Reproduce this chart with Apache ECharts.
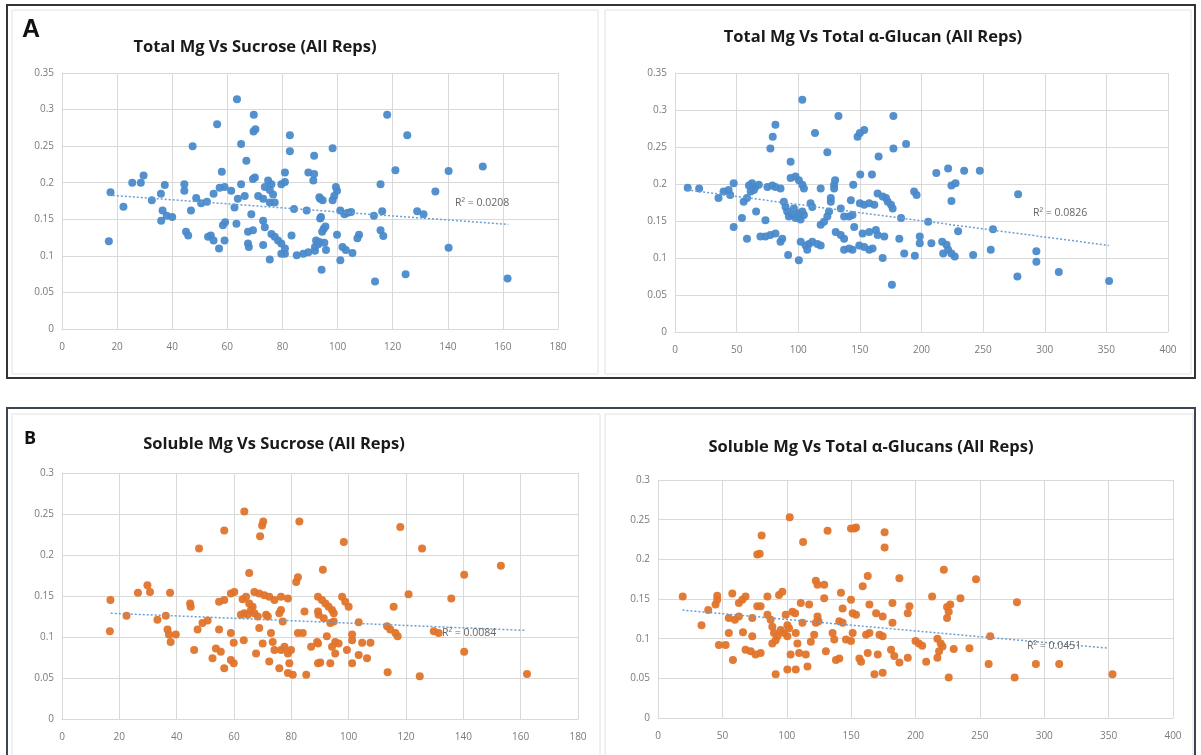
<!DOCTYPE html>
<html>
<head>
<meta charset="utf-8">
<script src="https://cdn.jsdelivr.net/npm/echarts@6/dist/echarts.min.js"></script>
<style>html,body{margin:0;padding:0;background:#fff}#c{width:1201px;height:755px}</style>
</head>
<body>
<div id="c"></div>
<script>
// ---- Titles / labels ----
const panelTitles = [
  'Total Mg Vs Sucrose (All Reps)',
  'Total Mg Vs Total \u03b1-Glucan (All Reps)',
  'Soluble Mg Vs Sucrose (All Reps)',
  'Soluble Mg Vs Total \u03b1-Glucans (All Reps)'
];
const r2Labels = ['R\u00b2 = 0.0208', 'R\u00b2 = 0.0826', 'R\u00b2 = 0.0084', 'R\u00b2 = 0.0451'];
const xMaxes = [180, 400, 180, 400];
const xIntervals = [20, 50, 20, 50];
const yMaxes = [0.35, 0.35, 0.3, 0.3];
const yInterval = 0.05;

// ---- Trend lines (end points) ----
const trendA1 = [[17, 0.183], [162, 0.143]];
const trendA2 = [[10, 0.192], [352, 0.117]];
const trendB1 = [[17, 0.129], [162, 0.108]];
const trendB2 = [[19, 0.136], [350, 0.088]];

// ---- Panel A left: Total Mg vs Sucrose ----
const pointsA1 = [
[17,0.120],[17.6,0.187],[22.3,0.167],[25.5,0.200],[28.6,0.200],[29.6,0.210],[32.6,0.176],[35.9,0.185],[37.3,0.197],[36.5,0.162],[38,0.155],[40,0.153],[36,0.148],[44.4,0.198],[44.4,0.189],[48.7,0.179],[46.8,0.162],[45,0.133],[45.8,0.128],[47.4,0.250],
[50.5,0.172],[52.6,0.174],[55,0.185],[57.2,0.193],[59,0.194],[61.4,0.189],[62.6,0.166],[63.8,0.178],[65,0.198],[66.3,0.182],[53,0.126],[54,0.128],[55,0.121],[57,0.110],[59,0.121],[58.4,0.142],[59.2,0.146],[63.3,0.144],[56.3,0.280],[58,0.215],[63.5,0.314],[65,0.253],[66.9,0.230],
[69.6,0.293],[69.5,0.270],[70.2,0.273],[69.3,0.205],[70,0.207],[74.8,0.203],[76,0.198],[73.6,0.194],[75.4,0.190],[71.2,0.182],[73,0.178],[76.6,0.184],[75.4,0.173],[77.2,0.173],[79.6,0.198],[80.9,0.201],[80.9,0.214],[82.7,0.265],[82.7,0.243],[68.7,0.157],[67.5,0.133],[69.3,0.135],[67.5,0.117],[67.8,0.112],[73,0.148],[73.6,0.139],[76,0.130],[77.2,0.126],[78.4,0.121],[79.6,0.117],[80.9,0.110],[83.3,0.128],[73,0.115],[75.4,0.095],[79.6,0.103],[80.9,0.103],[85.2,0.101],[87.6,0.103],[89.4,0.105],[91.8,0.107],[93,0.116],[84.2,0.164],[88.8,0.162],[89.4,0.214],[91.5,0.237],[91.2,0.203],[91.5,0.212],[93.7,0.178],[93.7,0.151],[94.2,0.081],[93.4,0.180],[94.6,0.176],
[98.2,0.247],[99.4,0.194],[99.8,0.189],[98.8,0.182],[98.2,0.176],[101,0.162],[102.5,0.157],[103.7,0.159],[104.9,0.160],[94,0.153],[95,0.137],[95.6,0.140],[94.4,0.133],[99.8,0.129],[107.8,0.129],[107.2,0.124],[101.8,0.112],[103,0.108],[105.4,0.104],[101,0.094],[92.2,0.121],[93.4,0.119],[95.2,0.118],[95.8,0.108],[91.8,0.112],[113.2,0.155],[116.2,0.161],[115.6,0.135],[116.6,0.127],[113.6,0.065],[118,0.293],[121,0.217],[115.6,0.198],[124.7,0.075],[125.3,0.265],[128.9,0.161],[131.2,0.157],[135.5,0.188],[140.3,0.216],[140.3,0.111],[152.7,0.222],[161.7,0.069]
];

// ---- Panel A right: Total Mg vs Total alpha-Glucan ----
const pointsA2 = [
[10.3,0.195],[19.6,0.194],[35.3,0.181],[39.4,0.190],[43.5,0.192],[47.6,0.201],[44.8,0.185],[47.6,0.142],[54.3,0.154],[55.7,0.176],[58.4,0.181],[58.4,0.126],[60,0.198],[62.5,0.201],[65.2,0.196],[68,0.199],[61.4,0.190],[64,0.192],[65.8,0.163],[73.4,0.151],[69.3,0.129],[73.4,0.129],[77.4,0.131],[81.5,0.133],[75,0.196],[79,0.198],[81.5,0.196],[85.6,0.194],[77.4,0.248],[79.3,0.264],[81.5,0.280],[85.6,0.122],[87,0.126],[88.3,0.176],[89.7,0.169],[91,0.163],[95.1,0.158],[92.4,0.156],[91.8,0.104],[93.8,0.230],[93.8,0.208],[97.8,0.210],[100.5,0.205],[103.3,0.199],[104.6,0.194],[96.5,0.167],[100.5,0.160],[103.3,0.163],[97.8,0.154],[101.9,0.152],[104.6,0.158],[100.5,0.156],[100.5,0.097],[103.3,0.314],[102,0.122],[106,0.117],[108.7,0.119],[111.4,0.122],[115.5,0.119],[118.2,0.117],[107.3,0.111],[110,0.174],[111.4,0.169],[113.6,0.269],[118.2,0.194],[118.2,0.145],[120.9,0.149],[123.6,0.243],[123.6,0.156],[125,0.163],[126.4,0.176],[126.4,0.181],[129.1,0.199],[129.9,0.205],[129.1,0.194],[130.4,0.135],[134.5,0.131],[137.2,0.126],[132.6,0.292],[134.5,0.167],[137.2,0.156],[141.3,0.156],[144,0.158],[137.2,0.111],[141.3,0.113],[144,0.111],[142.7,0.178],[144.6,0.199],[145.4,0.142],[148.1,0.264],[150,0.269],[153.5,0.273],[150,0.174],[153.5,0.172],[157.6,0.174],[150.3,0.213],[159.8,0.213],[149.5,0.117],[153.5,0.115],[157.6,0.111],[160.3,0.113],[152.2,0.133],[157.6,0.135],[163,0.138],[164.4,0.131],[161.7,0.172],[165.2,0.237],[164.4,0.187],[168.5,0.183],[171.2,0.181],[172.6,0.176],[175.3,0.172],[176.6,0.167],[169.8,0.129],[168.5,0.100],[177.2,0.248],[177.2,0.292],[176,0.064],[183.4,0.154],[182,0.126],[187.5,0.254],[186,0.106],[194.6,0.103],[194,0.190],[196,0.185],
[212,0.215],[221.6,0.221],[234.6,0.218],[247.3,0.218],[224.3,0.198],[227.6,0.201],[224.3,0.177],[278.4,0.186],[205.4,0.149],[229.7,0.136],[258,0.139],[198.6,0.129],[198.6,0.120],[208,0.120],[216.8,0.122],[220.3,0.118],[221.6,0.111],[224.3,0.106],[227,0.102],[217.6,0.106],[241.9,0.104],[256.2,0.111],[293.2,0.109],[293.2,0.095],[277.8,0.075],[311.4,0.081],[352.2,0.069]
];

// ---- Panel B left: Soluble Mg vs Sucrose ----
const pointsB1 = [
[16.9,0.145],[16.7,0.107],[22.5,0.126],[26.5,0.154],[29.8,0.163],[30.7,0.155],[37.7,0.154],[33.3,0.121],[36.2,0.126],[36.8,0.109],[37.3,0.103],[37.9,0.094],[39.7,0.103],[44.7,0.141],[44.9,0.137],[46.1,0.084],[47.3,0.109],[49,0.117],[50.8,0.120],[47.8,0.208],
[54.8,0.143],[56.6,0.145],[58.9,0.153],[60.1,0.155],[54.8,0.109],[58.9,0.105],[59.9,0.093],[52.5,0.074],[53.7,0.086],[55.4,0.082],[56.6,0.062],[58.9,0.072],[59.9,0.068],[56.6,0.230],[63.6,0.253],[70.2,0.241],[69.8,0.236],[69.1,0.223],[82.8,0.241],[65.3,0.178],[82.3,0.173],[81.7,0.167],
[63,0.146],[64.2,0.149],[65.3,0.141],[66.5,0.137],[63.6,0.129],[62.4,0.127],[64.8,0.127],[67.1,0.129],[68.3,0.125],[65.9,0.133],[63.4,0.096],[67.1,0.155],[68.8,0.153],[70.6,0.151],[72.3,0.149],[74.1,0.145],[76.4,0.149],[78.8,0.147],[68.8,0.111],[71.2,0.127],[71.8,0.125],[70,0.092],[67.7,0.080],[72.9,0.105],[73.5,0.094],[74.1,0.084],[72.3,0.070],[75.8,0.062],[76.4,0.084],[77.6,0.088],[78.8,0.080],[79.9,0.084],[79.3,0.068],[80.5,0.054],[78.8,0.056],[85.2,0.054],[75.8,0.129],[76.4,0.133],[77,0.119],[82.3,0.105],[84,0.105],[84.6,0.131],[86.9,0.088],[89.3,0.092],[89.3,0.068],[89.3,0.149],[89.3,0.131],
[91,0.182],[98.3,0.216],[90.7,0.145],[91.9,0.141],[93,0.137],[94.2,0.133],[94.8,0.129],[89.5,0.127],[91.3,0.123],[93.6,0.117],[97.7,0.149],[98.8,0.143],[100,0.137],[94.8,0.119],[103.5,0.118],[89,0.094],[92.4,0.101],[95.3,0.094],[101.2,0.103],[101.2,0.096],[104.7,0.093],[107.6,0.093],[94.2,0.088],[96.5,0.092],[95.3,0.080],[99.4,0.084],[90.1,0.069],[93.6,0.068],[101.2,0.068],[103.5,0.078],[106.4,0.074],
[115.7,0.137],[120.9,0.152],[113.4,0.113],[114.5,0.109],[116.3,0.105],[117.1,0.101],[113.6,0.057],[118,0.234],[125.6,0.208],[124.8,0.052],[129.7,0.107],[131.4,0.105],[135.8,0.147],[140.3,0.176],[140.3,0.082],[153.1,0.187],[162.2,0.055]
];

// ---- Panel B right: Soluble Mg vs Total alpha-Glucans ----
const pointsB2 = [
[19.2,0.153],[33.8,0.117],[39,0.136],[46,0.154],[46,0.149],[44.7,0.143],[47.3,0.092],[52.5,0.092],[55,0.126],[59.7,0.124],[62.8,0.128],[57.7,0.157],[55,0.107],[58.2,0.073],[62.8,0.145],[65.5,0.149],[68,0.153],[66,0.108],[68,0.086],[72,0.084],[75.8,0.080],[79.7,0.082],[73.2,0.126],[73.2,0.103],[77.1,0.206],[79,0.207],[80.5,0.230],[77.1,0.141],[79.7,0.141],[85,0.153],[85,0.130],[87.5,0.124],[88.8,0.115],[90.1,0.107],[91.4,0.098],[88.8,0.094],[92.7,0.103],[91.4,0.055],[94,0.155],[96.6,0.159],[95.3,0.111],[97.9,0.107],[100.5,0.103],[101.8,0.113],[99.2,0.130],[100.5,0.117],[102.3,0.253],[103,0.080],[100.5,0.061],[107,0.061],[104.4,0.134],[106.5,0.132],[107,0.107],[108.3,0.094],[109.6,0.082],[110.9,0.145],[117.4,0.143],[112.7,0.222],[112.2,0.120],[114.8,0.080],[116.1,0.065],[118.7,0.096],[121.3,0.105],[122.6,0.120],[122.6,0.173],[123.9,0.168],[129.1,0.168],[123.9,0.128],[124.7,0.122],[129.1,0.151],[130.4,0.084],[131.7,0.236],[135.6,0.107],[136.9,0.099],[138.2,0.073],[140.8,0.075],[140.8,0.122],[143.4,0.120],[143.4,0.138],[142.1,0.158],[146,0.099],[149.9,0.149],[151.2,0.132],[153.8,0.130],[149.9,0.239],[152.5,0.239],[153.8,0.240],[151.2,0.107],[149.9,0.097],[156.4,0.075],[157.7,0.071],[159,0.166],[162.9,0.179],[161.6,0.105],[164.2,0.107],[162.9,0.082],[164.2,0.143],[168.1,0.055],[174.5,0.057],[169.4,0.132],[174.5,0.128],[172,0.105],[174.5,0.103],[170.7,0.080],[176,0.234],[176,0.215],[182.1,0.120],[182.1,0.145],[181,0.086],[183.5,0.078],[187.5,0.070],[194,0.076],[187.5,0.176],[194,0.132],[195.3,0.141],[200,0.097],
[222,0.187],[247,0.175],[212.9,0.153],[234.9,0.151],[278.8,0.146],[224.5,0.140],[225.8,0.134],[224.5,0.126],[227,0.143],[258,0.103],[202.6,0.094],[205.2,0.091],[217,0.100],[219.6,0.094],[221,0.090],[218.3,0.084],[217,0.076],[229.7,0.087],[241.9,0.088],[208.3,0.071],[225.8,0.051],[256.8,0.068],[277,0.051],[293.5,0.068],[311.6,0.068],[353,0.055]
];

const pointSets = [pointsA1, pointsA2, pointsB1, pointsB2];
const trends = [trendA1, trendA2, trendB1, trendB2];
const pointColors = ['#4a8acb', '#4a8acb', '#e0742a', '#e0742a'];

// ---- layout (pixels) ----
const grids = [
  {left: 62, top: 73, width: 496, height: 256},
  {left: 675, top: 73, width: 493, height: 259},
  {left: 62, top: 473, width: 516, height: 246},
  {left: 658, top: 480, width: 515, height: 238}
];
const titlePos = [[250, 34], [868, 24], [269, 431], [866, 434]];
const r2Pos = [[455, 198], [1033, 208], [442, 628], [1027, 641]];

const gridLineColor = '#d9d9d9';
const labelStyle = {color: '#7a7a7a', fontSize: 10, fontFamily: 'Open Sans'};

const option = {
  animation: false,
  backgroundColor: '#fff',
  title: panelTitles.map((t, i) => ({
    text: t, left: titlePos[i][0], top: titlePos[i][1], textAlign: 'center',
    textStyle: {fontFamily: 'Open Sans', fontWeight: 'bold', fontSize: 16.5, color: '#1a1a1a'}
  })),
  grid: grids,
  xAxis: grids.map((g, i) => ({
    gridIndex: i, type: 'value', min: 0, max: xMaxes[i], interval: xIntervals[i],
    axisLine: {show: true, lineStyle: {color: gridLineColor}},
    axisTick: {show: false},
    axisLabel: Object.assign({margin: 13, showMaxLabel: true}, labelStyle),
    splitLine: {show: true, lineStyle: {color: gridLineColor}}
  })),
  yAxis: grids.map((g, i) => ({
    gridIndex: i, type: 'value', min: 0, max: yMaxes[i], interval: yInterval,
    axisLine: {show: true, lineStyle: {color: gridLineColor}},
    axisTick: {show: false},
    axisLabel: Object.assign({margin: 8, formatter: v => String(+v.toFixed(2))}, labelStyle),
    splitLine: {show: true, lineStyle: {color: gridLineColor}}
  })),
  series: [],
  graphic: []
};

pointSets.forEach((pts, i) => {
  option.series.push({
    type: 'scatter', xAxisIndex: i, yAxisIndex: i, data: pts,
    symbolSize: 8, z: 3,
    itemStyle: {color: pointColors[i], opacity: 0.95}
  });
  option.series.push({
    type: 'line', xAxisIndex: i, yAxisIndex: i, data: trends[i],
    symbol: 'none', z: 4,
    lineStyle: {color: '#6a9fd4', width: 1.5, type: [2, 2]}
  });
});

// frames
option.graphic.push(
  {type: 'rect', shape: {x: 12, y: 10, width: 586, height: 364}, style: {fill: 'none', stroke: '#e2e2e2', lineWidth: 1}},
  {type: 'rect', shape: {x: 605, y: 10, width: 586, height: 364}, style: {fill: 'none', stroke: '#e2e2e2', lineWidth: 1}},
  {type: 'rect', shape: {x: 12, y: 414, width: 588, height: 350}, style: {fill: 'none', stroke: '#e2e2e2', lineWidth: 1}},
  {type: 'rect', shape: {x: 605, y: 414, width: 588, height: 350}, style: {fill: 'none', stroke: '#e2e2e2', lineWidth: 1}},
  {type: 'rect', shape: {x: 7, y: 5, width: 1188, height: 373}, style: {fill: 'none', stroke: '#333', lineWidth: 2}},
  {type: 'rect', shape: {x: 7, y: 408, width: 1188, height: 360}, style: {fill: 'none', stroke: '#3d4555', lineWidth: 2}},
  {type: 'text', left: 22, top: 18, style: {text: 'A', font: 'bold 25px "Liberation Sans"', fill: '#111'}},
  {type: 'text', left: 24, top: 430, style: {text: 'B', font: 'bold 18px "Open Sans"', fill: '#111'}}
);
r2Labels.forEach((t, i) => {
  option.graphic.push({type: 'text', left: r2Pos[i][0], top: r2Pos[i][1], z: 10,
    style: {text: t, font: '10.5px "Open Sans"', fill: '#666'}});
});

const chart = echarts.init(document.getElementById('c'), null, {renderer: 'canvas'});
chart.setOption(option);
</script>
</body>
</html>
